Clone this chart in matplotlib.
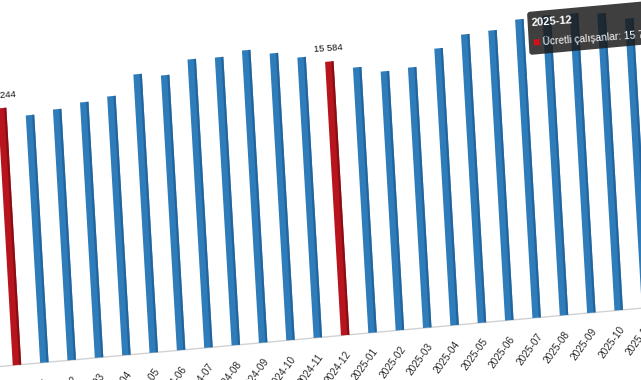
import numpy as np
import matplotlib
matplotlib.use("Agg")
import matplotlib.pyplot as plt
from matplotlib.transforms import Affine2D
from matplotlib.patches import FancyBboxPatch, Rectangle

months = ["2023-12", "2024-01", "2024-02", "2024-03", "2024-04", "2024-05",
          "2024-06", "2024-07", "2024-08", "2024-09", "2024-10", "2024-11",
          "2024-12", "2025-01", "2025-02", "2025-03", "2025-04", "2025-05",
          "2025-06", "2025-07", "2025-08", "2025-09", "2025-10", "2025-11",
          "2025-12"]
values = [15244, 15050, 15120, 15213, 15284, 15682, 15611, 15886, 15876,
          15968, 15855, 15723, 15584, 15416, 15284, 15314, 15651, 15886,
          15916, 16090, 16120, 16110, 16060, 15906, 15768]
highlight = ["2023-12", "2024-12", "2025-12"]
labelled = ["2023-12", "2024-12"]
series_name = "Ücretli çalışanlar"
tooltip_month = "2025-12"

plt.rcParams['font.family'] = ['Liberation Sans', 'DejaVu Sans']

W, H = 641, 380
fig = plt.figure(figsize=(W / 100, H / 100), dpi=100)
ax = fig.add_axes([0, 0, 1, 1])
ax.axis('off')

# layout (pixels)
x0, y0 = 17.0, 15.0
dx = 27.35
ybase = 10000
kpx = 0.049
ax.set_xlim(-x0 / dx, (W - x0) / dx)
ax.set_ylim(ybase - y0 / kpx, ybase + (H - y0) / kpx)

# perspective-like skew in display space
T = (Affine2D().translate(-x0, -y0)
     + Affine2D(np.array([[1.0, -0.058, 0.0], [0.091, 1.0, 0.0], [0.0, 0.0, 1.0]]))
     + Affine2D().translate(x0, y0))
tr = ax.transData + T

blue, blue_d = "#2f7cba", "#1f5f94"
red, red_d = "#b8141e", "#7e0c12"
bw = 0.31

# baseline
ax.plot([-0.7, len(months) + 0.5], [ybase, ybase], color="#d2d2d2", lw=1.0,
        transform=tr, clip_on=False, zorder=1)

for i, (m, v) in enumerate(zip(months, values)):
    c, cd = (red, red_d) if m in highlight else (blue, blue_d)
    r = Rectangle((i - bw / 2, ybase), bw, v - ybase, facecolor=c,
                  edgecolor='none', transform=tr, clip_on=False, zorder=2)
    ax.add_patch(r)
    s = Rectangle((i + bw / 2 - 0.08, ybase), 0.08, v - ybase, facecolor=cd,
                  edgecolor='none', transform=tr, clip_on=False, zorder=2,
                  alpha=0.8)
    ax.add_patch(s)
    ax.text(i + 0.1, ybase - 17 / kpx, m, rotation=54, ha='right',
            va='center', rotation_mode='anchor', fontsize=7.2, color='#2a2a2a',
            transform=tr, clip_on=False)
    if m in labelled:
        ax.text(i, v + 13 / kpx, f"{v:,}".replace(",", " "), ha='center',
                va='center', fontsize=6.8, color='#111111', rotation=4,
                transform=tr, clip_on=False, zorder=3)

# tooltip
ti = months.index(tooltip_month)
tv = values[ti]
tl = T.inverted().transform((527.0, H - 12.0))
tw, th = 150.0, 43.0
box = FancyBboxPatch((tl[0], tl[1] - th), tw, th,
                     boxstyle="round,pad=0,rounding_size=3",
                     facecolor="#1a1a1a", edgecolor='none', alpha=0.84,
                     transform=T, zorder=5, clip_on=False)
fig.add_artist(box)
fig.text(tl[0] + 4, tl[1] - 6, tooltip_month, fontsize=8, fontweight='bold',
         color='white', va='top', ha='left', rotation=4,
         rotation_mode='anchor', transform=T, zorder=6)
sq = Rectangle((tl[0] + 5, tl[1] - 34), 6, 6, facecolor='#d0101a',
               edgecolor='none', transform=T, zorder=6)
fig.add_artist(sq)
fig.text(tl[0] + 14, tl[1] - 31, f"{series_name}: {tv:,}".replace(",", " "),
         fontsize=7.4, color='white', va='center', ha='left', rotation=4,
         rotation_mode='anchor', transform=T, zorder=6)

fig.savefig("out.png", dpi=100)
